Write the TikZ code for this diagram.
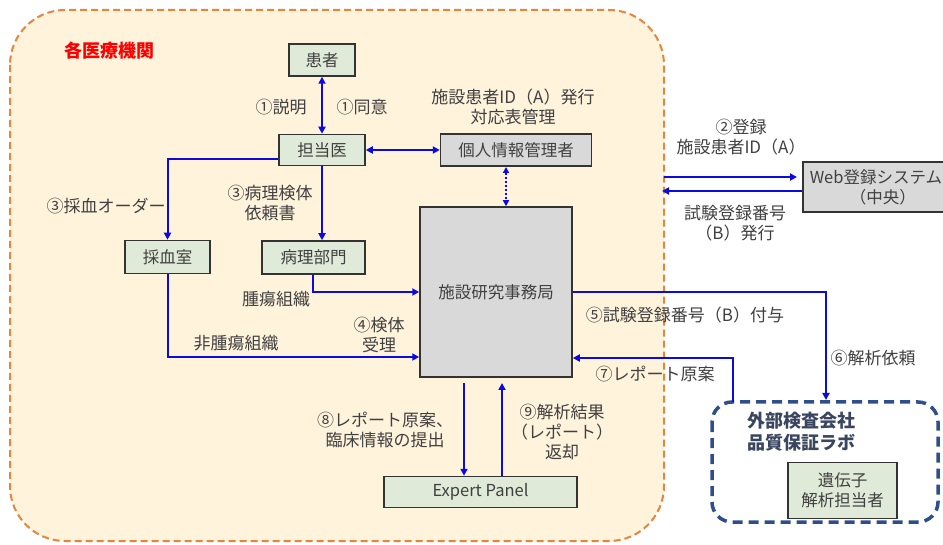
\documentclass[tikz,border=0pt]{standalone}
\usepackage{fontspec}
\setmainfont{Noto Sans CJK JP}
\usetikzlibrary{arrows.meta,calc}
\definecolor{peach}{HTML}{FFF3DC}
\definecolor{orangeline}{HTML}{E8843C}
\definecolor{bluearr}{RGB}{10,10,225}
\definecolor{greenbox}{HTML}{E0EAD8}
\definecolor{graybox}{HTML}{D9D9D9}
\definecolor{txt}{HTML}{404040}
\definecolor{labblue}{HTML}{2F4F8A}
\definecolor{labtxt}{HTML}{3A4560}
\tikzset{
  box/.style={draw=black!80,line width=1.5pt,text=txt,inner sep=0pt,align=center,font=\fontsize{16.5}{20}\selectfont},
  gbox/.style={box,fill=greenbox},
  ybox/.style={box,fill=graybox},
  lbl/.style={text=txt,align=center,inner sep=0pt,font=\fontsize{17}{20}\selectfont},
  arr/.style={draw=bluearr,line width=2pt,-{Triangle[length=7pt,width=7pt]}},
  darr/.style={draw=bluearr,line width=2pt,{Triangle[length=7pt,width=7pt]}-{Triangle[length=7pt,width=7pt]}},
}
\begin{document}
\begin{tikzpicture}[x=1pt,y=-1pt]
\useasboundingbox (0,0) rectangle (943,545);
\fill[white] (0,0) rectangle (943,545);
% institution area
\draw[orangeline,fill=peach,line width=2pt,dash pattern=on 7pt off 4pt,rounded corners=55pt] (10,10) rectangle (664,541);
\node[text=red,font=\fontsize{18}{20}\selectfont\bfseries,inner sep=0pt] (title) at (109,51) {各医療機関};
% nodes
\node[gbox,minimum width=66pt,minimum height=32pt] (patient) at (322,60) {患者};
\node[gbox,minimum width=86pt,minimum height=31pt] (doctor) at (322,150) {担当医};
\node[ybox,minimum width=151pt,minimum height=32pt] (priv) at (516,150) {個人情報管理者};
\node[ybox,minimum width=152pt,minimum height=170pt] (office) at (496,292) {施設研究事務局};
\node[ybox,minimum width=160pt,minimum height=50pt,anchor=west,text width=156pt,align=left] (web) at (802,187) {\hspace*{5pt}Web登録システム\\\hspace*{45pt}（中央）};
\node[gbox,minimum width=85pt,minimum height=33pt] (blood) at (167.5,257) {採血室};
\node[gbox,minimum width=103pt,minimum height=33pt] (patho) at (313.5,257.5) {病理部門};
\node[gbox,minimum width=193pt,minimum height=31pt] (expert) at (480.5,492) {Expert Panel};
\draw[labblue,line width=3.5pt,dash pattern=on 10pt off 6pt,rounded corners=20pt] (712,402) rectangle (938,522);
\node[text=labtxt,font=\fontsize{18}{22}\selectfont\bfseries,align=left,anchor=north west,inner sep=0pt] (labname) at (747,412) {外部検査会社\\品質保証ラボ};
\node[gbox,minimum width=109pt,minimum height=56pt] (gene) at (842.5,490.5) {遺伝子\\解析担当者};
% coordinates
\coordinate (lab6) at (826,400);
\coordinate (lab7) at (733,402);
\coordinate (wout) at (664,177);
\coordinate (win) at (662,191);
\coordinate (e8) at (464,383);
\coordinate (e9) at (502,383);
\coordinate (dotA) at (506,167);
% connectors
\draw[darr] (patient.south) -- (doctor.north);
\draw[darr] (doctor.east) -- (priv.west);
\draw[bluearr,line width=2pt,dotted,{Triangle[length=6pt,width=6pt]}-{Triangle[length=6pt,width=6pt]}] (dotA) -- (dotA |- office.north);
\draw[arr] ([yshift=-9pt]doctor.west) -| (blood.north);
\draw[arr] (doctor.south) -- (doctor.south |- patho.north);
\draw[arr] ([xshift=-0.5pt]patho.south) |- (office.west);
\draw[arr] (blood.south) |- ([yshift=-65pt]office.west);
\draw[arr] (office.east) -| (lab6);
\draw[arr] (lab7) |- ([yshift=-66pt]office.east);
\draw[arr,shorten >=5pt] (wout) -- (wout -| web.west);
\draw[arr] (web.west |- win) -- (win);
\draw[arr] (e8) -- (e8 |- expert.north);
\draw[arr] (e9 |- expert.north) -- (e9);
% labels
\node[lbl] (l1a) at (281,107) {①説明};
\node[lbl] (l1b) at (362,107) {①同意};
\node[lbl] (lA) at (513,107) {施設患者ID（A）発行\\対応表管理};
\node[lbl] (l2) at (741,137) {②登録\\施設患者ID（A）};
\node[lbl] (lB) at (735,223) {試験登録番号\\（B）発行};
\node[lbl] (l3a) at (106,206) {③採血オーダー};
\node[lbl] (l3b) at (270,203) {③病理検体\\依頼書};
\node[lbl] (ltum) at (276,299) {腫瘍組織};
\node[lbl] (lnon) at (236,343) {非腫瘍組織};
\node[lbl] (l4) at (379,335) {④検体\\受理};
\node[lbl] (l5) at (685,315) {⑤試験登録番号（B）付与};
\node[lbl] (l6) at (873,358) {⑥解析依頼};
\node[lbl] (l7) at (655,374) {⑦レポート原案};
\node[lbl] (l8) at (385,430) {⑧レポート原案、\\臨床情報の提出};
\node[lbl] (l9) at (562,432) {⑨解析結果\\（レポート）\\返却};
\end{tikzpicture}
\end{document}
